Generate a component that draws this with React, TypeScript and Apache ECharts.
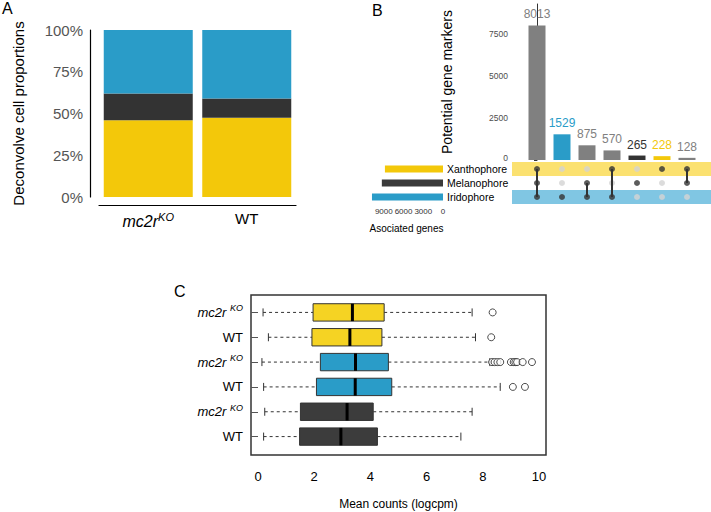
import * as echarts from "echarts";
import { useEffect, useRef } from "react";

const FONT = "Liberation Sans, Arial, sans-serif";
const YELLOW = "#F3C80A";
const DARK = "#333333";
const BLUE = "#2A9CC8";

// Panel A: deconvolved proportions (%)
const genotypes = ["mc2r", "WT"];
const xanthProp = [46, 47.5];
const melanoProp = [16, 11.5];
const iridoProp = [38, 41];

// Panel B: upset plot
const setNames = ["Iridophore", "Melanophore", "Xanthophore"];
const setSizes = [10800, 9300, 8830];
const setColors = [BLUE, "#3a3a3a", YELLOW];
const intersectSizes = [8013, 1529, 875, 570, 265, 228, 128];
const intersectColors = ["#808080", BLUE, "#808080", "#808080", DARK, YELLOW, "#808080"];
const labelColors = ["#808080", BLUE, "#808080", "#808080", DARK, YELLOW, "#808080"];
// membership per intersection, order: Iridophore, Melanophore, Xanthophore
const membership = [
  [1, 1, 1],
  [1, 0, 0],
  [1, 1, 0],
  [1, 0, 1],
  [0, 1, 0],
  [0, 0, 1],
  [0, 1, 1],
];

// Panel C: boxplots, bottom to top
const boxRows = ["dWT", "dKO", "bWT", "bKO", "yWT", "yKO"];
const boxColors = ["#3c3c3c", "#3c3c3c", BLUE, BLUE, "#F5D323", "#F5D323"];
// [min, q1, median, q3, max]
const boxStats = [
  [0.2, 1.48, 2.95, 4.25, 7.22],
  [0.24, 1.51, 3.17, 4.1, 7.62],
  [0.2, 2.08, 3.46, 4.76, 8.62],
  [0.14, 2.22, 3.47, 4.64, 8.25],
  [0.37, 1.92, 3.27, 4.41, 7.74],
  [0.18, 1.96, 3.36, 4.49, 7.62],
];
const outliers: [number, number][] = [
  [2, 9.07], [2, 9.5],
  [3, 8.33], [3, 8.42], [3, 8.52], [3, 8.62], [3, 9.0], [3, 9.1], [3, 9.16], [3, 9.22], [3, 9.42], [3, 9.75],
  [4, 8.3],
  [5, 8.35],
];

export default function App() {
  const ref = useRef<HTMLDivElement | null>(null);

  useEffect(() => {
    document.body.style.margin = "0";
    if (!ref.current) return;
    const chart = echarts.init(ref.current, undefined, { renderer: "svg" });

    const dotsOn: number[][] = [];
    const dotsOff: number[][] = [];
    membership.forEach((m, i) => m.forEach((v, r) => (v ? dotsOn : dotsOff).push([i, r + 0.5])));
    const lineSeries = membership
      .map((m, i) => {
        const rows = m.map((v, r) => (v ? r : -1)).filter((r) => r >= 0);
        if (rows.length < 2) return null;
        return {
          type: "line",
          xAxisIndex: 3,
          yAxisIndex: 3,
          data: [[i, rows[0] + 0.5], [i, rows[rows.length - 1] + 0.5]],
          symbol: "none",
          lineStyle: { color: DARK, width: 2 },
          z: 3,
        };
      })
      .filter(Boolean);

    const koRich = {
      it: { fontStyle: "italic", fontSize: 13, fontFamily: FONT, color: "#000" },
      sup: { fontStyle: "italic", fontSize: 9, fontFamily: FONT, color: "#000", verticalAlign: "top", padding: [0, 0, 8, 0] },
      n: { fontSize: 13, fontFamily: FONT, color: "#000" },
    };

    chart.setOption({
      animation: false,
      textStyle: { fontFamily: FONT },
      graphic: [
        { type: "text", left: 2, top: 0, style: { text: "A", font: `16px ${FONT}`, fill: "#000" } },
        { type: "text", left: 372, top: 2, style: { text: "B", font: `16px ${FONT}`, fill: "#000" } },
        { type: "text", left: 174, top: 283, style: { text: "C", font: `16px ${FONT}`, fill: "#000" } },
      ],
      grid: [
        { left: 99, top: 30, width: 197, height: 167 },
        { left: 512, top: 4, width: 199, height: 156 },
        { left: 370, top: 162, width: 73, height: 42 },
        { left: 512, top: 162, width: 199, height: 42 },
        { left: 251, top: 295, width: 295, height: 160, show: true, borderColor: "#333", borderWidth: 1.5, backgroundColor: "transparent" },
        { left: 258, top: 300, width: 281, height: 149 },
      ],
      xAxis: [
        {
          gridIndex: 0, type: "category", data: genotypes, offset: 8,
          axisLine: { show: true, onZero: false, lineStyle: { color: "#000", width: 1.2 } }, axisTick: { show: false },
          axisLabel: {
            margin: 6, interval: 0,
            formatter: (v: string) => (v === "mc2r" ? "{it|mc2r}{sup|KO}" : "{n|WT}"),
            rich: {
              it: { fontStyle: "italic", fontSize: 16, fontFamily: FONT, color: "#000" },
              sup: { fontStyle: "italic", fontSize: 11, fontFamily: FONT, color: "#000", verticalAlign: "top", padding: [0, 0, 10, 0] },
              n: { fontSize: 15, fontFamily: FONT, color: "#000" },
            },
          },
        },
        { gridIndex: 1, type: "value", min: -1, max: 6.96, show: false },
        {
          gridIndex: 2, type: "value", inverse: true, min: 0, max: 11100, interval: 3000,
          name: "Asociated genes", nameLocation: "middle", nameGap: 19,
          nameTextStyle: { fontSize: 10, color: "#000" },
          axisLine: { show: false }, splitLine: { show: false },
          axisTick: { length: 3, lineStyle: { color: "#333" } },
          axisLabel: { fontSize: 8, color: "#333", margin: 3, showMaxLabel: false, formatter: (v: number) => String(v) },
        },
        { gridIndex: 3, type: "value", min: -1, max: 6.96, show: false },
        { gridIndex: 4, type: "value", show: false, min: 0, max: 1 },
        {
          gridIndex: 5, type: "value", min: 0, max: 10, interval: 2, offset: 13,
          name: "Mean counts (logcpm)", nameLocation: "middle", nameGap: 36,
          nameTextStyle: { fontSize: 12, color: "#000" },
          axisLine: { lineStyle: { color: "#333" } }, axisTick: { length: 6, lineStyle: { color: "#333" } },
          axisLabel: { fontSize: 13, color: "#000", margin: 8 }, splitLine: { show: false },
        },
      ],
      yAxis: [
        {
          gridIndex: 0, type: "value", min: 0, max: 100, interval: 25, offset: 9,
          name: "Deconvolve cell proportions", nameLocation: "middle", nameGap: 64,
          nameTextStyle: { fontSize: 15, color: "#000" },
          axisLine: { show: true, lineStyle: { color: "#000", width: 1.2 } },
          axisTick: { show: false },
          axisLabel: { formatter: "{value}%", fontSize: 15, color: "#555", margin: 7 },
          splitLine: { show: false },
        },
        {
          gridIndex: 1, type: "value", min: 0, max: 9286, interval: 2500,
          name: "Potential gene markers", nameLocation: "middle", nameGap: 58,
          nameTextStyle: { fontSize: 14, color: "#000" },
          axisLine: { show: true, lineStyle: { color: "#333" } },
          axisTick: { show: true, length: 3, lineStyle: { color: "#333" } },
          axisLabel: {
            fontSize: 8.5, color: "#4d4d4d", showMaxLabel: false, margin: 4,
            formatter: (v: number) => (v === 0 ? "{z|0}" : String(v)),
            rich: { z: { fontSize: 8.5, color: "#4d4d4d", padding: [0, 0, 5, 0] } },
          },
          splitLine: { show: false },
        },
        {
          gridIndex: 2, type: "category", data: setNames, position: "right",
          axisLine: { show: false }, axisTick: { show: false },
          axisLabel: { fontSize: 10.5, color: "#000", margin: 4, interval: 0 },
        },
        { gridIndex: 3, type: "value", min: 0, max: 3, show: false },
        { gridIndex: 4, type: "value", show: false, min: 0, max: 1 },
        {
          gridIndex: 5, type: "category", data: boxRows, offset: 7,
          axisLine: { show: false },
          axisTick: { show: true, alignWithLabel: true, length: 7, lineStyle: { color: "#555" } },
          axisLabel: {
            margin: 8, interval: 0,
            formatter: (v: string) => (v.endsWith("KO") ? "{it|mc2r }{sup|KO}" : "{n|WT}"),
            rich: koRich,
          },
        },
      ],
      series: [
        { type: "bar", xAxisIndex: 0, yAxisIndex: 0, stack: "a", data: xanthProp, barWidth: 89, itemStyle: { color: YELLOW } },
        { type: "bar", xAxisIndex: 0, yAxisIndex: 0, stack: "a", data: melanoProp, barWidth: 89, itemStyle: { color: DARK } },
        { type: "bar", xAxisIndex: 0, yAxisIndex: 0, stack: "a", data: iridoProp, barWidth: 89, itemStyle: { color: BLUE } },
        {
          type: "bar", xAxisIndex: 1, yAxisIndex: 1, barWidth: 17,
          data: intersectSizes.map((v, i) => ({
            value: [i, v],
            itemStyle: { color: intersectColors[i] },
            label: { color: labelColors[i] },
          })),
          label: { show: true, position: "top", fontSize: 12, distance: 5, formatter: (p: any) => String(p.value[1]) },
        },
        {
          type: "bar", xAxisIndex: 2, yAxisIndex: 2, barWidth: 7,
          data: setSizes.map((v, i) => ({ value: v, itemStyle: { color: setColors[i] } })),
        },
        ...lineSeries,
        {
          type: "scatter", xAxisIndex: 3, yAxisIndex: 3, data: dotsOff, symbolSize: 6, itemStyle: { color: "#d3d3d3" }, z: 2,
          markArea: {
            silent: true,
            data: [
              [{ xAxis: -1, yAxis: 0, itemStyle: { color: "#80C6E3" } }, { xAxis: 6.96, yAxis: 1 }],
              [{ xAxis: -1, yAxis: 2, itemStyle: { color: "#FBE170" } }, { xAxis: 6.96, yAxis: 3 }],
            ],
          },
        },
        { type: "scatter", xAxisIndex: 3, yAxisIndex: 3, data: dotsOn, symbolSize: 6, itemStyle: { color: DARK }, z: 4 },
        {
          type: "custom", xAxisIndex: 5, yAxisIndex: 5,
          data: boxStats.map((s, i) => [i, ...s]),
          renderItem: (params: any, api: any) => {
            const idx = api.value(0);
            const [mn, q1, md, q3, mx] = [1, 2, 3, 4, 5].map((k) => api.value(k));
            const h = api.size([0, 1])[1] * 0.7;
            const pMin = api.coord([mn, idx]);
            const pQ1 = api.coord([q1, idx]);
            const pMd = api.coord([md, idx]);
            const pQ3 = api.coord([q3, idx]);
            const pMax = api.coord([mx, idx]);
            const y = pMin[1];
            const dash = { stroke: "#333", lineWidth: 1, lineDash: [3, 3] };
            const solid = { stroke: "#333", lineWidth: 1 };
            return {
              type: "group",
              children: [
                { type: "line", shape: { x1: pMin[0], y1: y, x2: pQ1[0], y2: y }, style: dash },
                { type: "line", shape: { x1: pQ3[0], y1: y, x2: pMax[0], y2: y }, style: dash },
                { type: "line", shape: { x1: pMin[0], y1: y - 4, x2: pMin[0], y2: y + 4 }, style: solid },
                { type: "line", shape: { x1: pMax[0], y1: y - 4, x2: pMax[0], y2: y + 4 }, style: solid },
                {
                  type: "rect",
                  shape: { x: pQ1[0], y: y - h / 2, width: pQ3[0] - pQ1[0], height: h },
                  style: { fill: boxColors[idx], stroke: "#333", lineWidth: 1 },
                },
                { type: "line", shape: { x1: pMd[0], y1: y - h / 2, x2: pMd[0], y2: y + h / 2 }, style: { stroke: "#000", lineWidth: 3 } },
              ],
            };
          },
        },
        {
          type: "scatter", xAxisIndex: 5, yAxisIndex: 5,
          data: outliers.map(([r, v]) => [v, boxRows[r]]),
          symbol: "circle", symbolSize: 7, z: 5,
          itemStyle: { color: "#ffffff", borderColor: "#222", borderWidth: 1 },
        },
      ],
    });
    return () => chart.dispose();
  }, []);

  return <div ref={ref} style={{ width: 711, height: 512 }} />;
}
